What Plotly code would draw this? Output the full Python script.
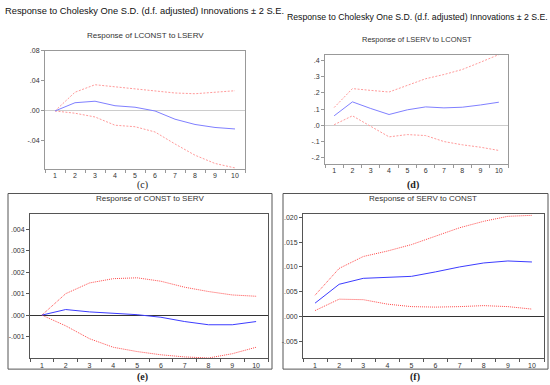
import plotly.graph_objects as go

W, H = 550, 385

periods = [1, 2, 3, 4, 5, 6, 7, 8, 9, 10]

# (c) Response of LCONST to LSERV
c_resp = [0.0, 0.011, 0.013, 0.007, 0.005, 0.000, -0.011, -0.018, -0.022, -0.024]
c_upper = [0.0, 0.025, 0.035, 0.032, 0.030, 0.027, 0.024, 0.023, 0.025, 0.027]
c_lower = [0.0, -0.003, -0.008, -0.019, -0.021, -0.028, -0.044, -0.059, -0.070, -0.076]
c_ticks = [0.08, 0.04, 0.0, -0.04]
c_ticktext = [".08", ".04", ".00", "-.04"]

# (d) Response of LSERV to LCONST
d_resp = [0.059, 0.145, 0.104, 0.067, 0.096, 0.114, 0.108, 0.112, 0.126, 0.143]
d_upper = [0.110, 0.227, 0.216, 0.206, 0.247, 0.288, 0.314, 0.345, 0.390, 0.437]
d_lower = [0.004, 0.059, -0.006, -0.071, -0.057, -0.063, -0.100, -0.120, -0.135, -0.155]
d_ticks = [0.4, 0.3, 0.2, 0.1, 0.0, -0.1, -0.2]
d_ticktext = [".4", ".3", ".2", ".1", ".0", "-.1", "-.2"]

# (e) Response of CONST to SERV
e_resp = [0.0, 0.00026, 0.00015, 0.00008, 0.00002, -0.0001, -0.0003, -0.00045, -0.00045, -0.0003]
e_upper = [0.0, 0.0010, 0.0015, 0.0017, 0.00174, 0.00158, 0.0013, 0.0011, 0.00094, 0.00088]
e_lower = [0.0, -0.0005, -0.0011, -0.0015, -0.0017, -0.00185, -0.00195, -0.0020, -0.0018, -0.0015]
e_ticks = [0.004, 0.003, 0.002, 0.001, 0.0, -0.001]
e_ticktext = [".004", ".003", ".002", ".001", ".000", "-.001"]

# (f) Response of SERV to CONST
f_resp = [0.0027, 0.0065, 0.0077, 0.0079, 0.0081, 0.0090, 0.0100, 0.0108, 0.0112, 0.0110]
f_upper = [0.0043, 0.0097, 0.0121, 0.0132, 0.0145, 0.0162, 0.0179, 0.0192, 0.0202, 0.0204]
f_lower = [0.0012, 0.0035, 0.0034, 0.0025, 0.0020, 0.0019, 0.0020, 0.0022, 0.0020, 0.0015]
f_ticks = [0.020, 0.015, 0.010, 0.005, 0.0, -0.005]
f_ticktext = [".020", ".015", ".010", ".005", ".000", "-.005"]

main_title = "Response to Cholesky One S.D. (d.f. adjusted) Innovations \u00b1 2 S.E."

def px_x(p):
    return p / W

def px_y(p):
    return 1 - p / H

fig = go.Figure()

panels = [
    dict(key="", resp=c_resp, up=c_upper, lo=c_lower, ticks=c_ticks, tt=c_ticktext,
         box=(45, 245, 48, 167), yr=[-0.077, 0.0805], title="Response of LCONST to LSERV",
         tpos=(145, 33), tsize=8, blue="#8080ff", red="#ff9a9a", dash="2px,1.5px",
         zc="#cccccc", frame="#999999", caption="(c)", cpos=(142, 183), cbold=False),
    dict(key="2", resp=d_resp, up=d_upper, lo=d_lower, ticks=d_ticks, tt=d_ticktext,
         box=(325, 508, 52, 162), yr=[-0.237, 0.437], title="Response of LSERV to LCONST",
         tpos=(417, 37), tsize=7.5, blue="#8080ff", red="#ff9a9a", dash="2px,1.5px",
         zc="#cccccc", frame="#999999", caption="(d)", cpos=(413, 183), cbold=True),
    dict(key="3", resp=e_resp, up=e_upper, lo=e_lower, ticks=e_ticks, tt=e_ticktext,
         box=(30, 268, 213, 358), yr=[-0.00201, 0.0047], title="Response of CONST to SERV",
         tpos=(150, 197), tsize=8, blue="#3c3cff", red="#ff4a4a", dash="1px,1px",
         zc="#333333", frame="#555555", caption="(e)", cpos=(142, 377), cbold=True),
    dict(key="4", resp=f_resp, up=f_upper, lo=f_lower, ticks=f_ticks, tt=f_ticktext,
         box=(303, 544, 213, 358), yr=[-0.0084, 0.0206], title="Response of SERV to CONST",
         tpos=(423, 197), tsize=8, blue="#3c3cff", red="#ff4a4a", dash="1px,1px",
         zc="#333333", frame="#555555", caption="(f)", cpos=(415, 377), cbold=True),
]

annotations = []
for p in panels:
    k = p["key"]
    xa = "x" + k
    ya = "y" + k
    for vals, col, dash in [(p["up"], p["red"], p["dash"]), (p["lo"], p["red"], p["dash"]),
                            (p["resp"], p["blue"], "solid")]:
        fig.add_trace(go.Scatter(x=periods, y=vals, mode="lines", xaxis=xa, yaxis=ya,
                                 line=dict(color=col, width=1, dash=dash),
                                 showlegend=False, hoverinfo="skip", cliponaxis=True))
    x0, x1, y0, y1 = p["box"]
    fig.layout["xaxis" + k] = dict(
        domain=[px_x(x0), px_x(x1)], range=[0.5, 10.5], anchor=ya,
        tickvals=periods, ticktext=[str(v) for v in periods],
        ticks="", showgrid=False, zeroline=False,
        showline=True, mirror=True, linecolor=p["frame"], linewidth=1,
        tickfont=dict(family="Liberation Sans, Arial, sans-serif", size=7, color="#333333"),
        minor=dict(ticks="outside", tick0=0.5, dtick=1, ticklen=3, tickcolor=p["frame"], showgrid=False),
        fixedrange=True,
    )
    fig.layout["yaxis" + k] = dict(
        domain=[px_y(y1), px_y(y0)], range=p["yr"], anchor=xa,
        tickvals=p["ticks"], ticktext=p["tt"], ticks="outside", ticklen=3,
        tickcolor=p["frame"], showgrid=False,
        zeroline=True, zerolinecolor=p["zc"], zerolinewidth=1,
        showline=True, mirror=True, linecolor=p["frame"], linewidth=1,
        tickfont=dict(family="Liberation Sans, Arial, sans-serif", size=7, color="#333333"),
        fixedrange=True,
    )
    annotations.append(dict(text=p["title"], x=px_x(p["tpos"][0]), y=px_y(p["tpos"][1]),
                            xref="paper", yref="paper", showarrow=False,
                            xanchor="center", yanchor="middle",
                            font=dict(family="Liberation Sans, Arial, sans-serif",
                                      size=p["tsize"], color="#333333")))
    cap = "<b>" + p["caption"] + "</b>" if p["cbold"] else p["caption"]
    annotations.append(dict(text=cap, x=px_x(p["cpos"][0]), y=px_y(p["cpos"][1]),
                            xref="paper", yref="paper", showarrow=False,
                            xanchor="center", yanchor="middle",
                            font=dict(family="Liberation Serif, Times New Roman, serif",
                                      size=10, color="#222222")))

annotations.append(dict(text=main_title, x=px_x(3), y=px_y(8), xref="paper", yref="paper",
                        showarrow=False, xanchor="left", yanchor="middle",
                        font=dict(family="Liberation Sans, Arial, sans-serif",
                                  size=9.3, color="#111111")))
annotations.append(dict(text=main_title, x=px_x(285), y=px_y(14), xref="paper", yref="paper",
                        showarrow=False, xanchor="left", yanchor="middle",
                        font=dict(family="Liberation Sans, Arial, sans-serif",
                                  size=8.7, color="#111111")))

shapes = [
    dict(type="rect", xref="paper", yref="paper", x0=px_x(8), x1=px_x(272), y0=px_y(369), y1=px_y(192),
         line=dict(color="#555555", width=1)),
    dict(type="rect", xref="paper", yref="paper", x0=px_x(283), x1=px_x(548), y0=px_y(369), y1=px_y(192),
         line=dict(color="#555555", width=1)),
]

fig.update_layout(width=W, height=H, autosize=False,
                  margin=dict(l=0, r=0, t=0, b=0),
                  paper_bgcolor="white", plot_bgcolor="white",
                  annotations=annotations, shapes=shapes, showlegend=False)

fig.write_html("out.html", config={"displayModeBar": False},
               post_script="document.body.style.margin='0';document.body.style.overflow='hidden';")
